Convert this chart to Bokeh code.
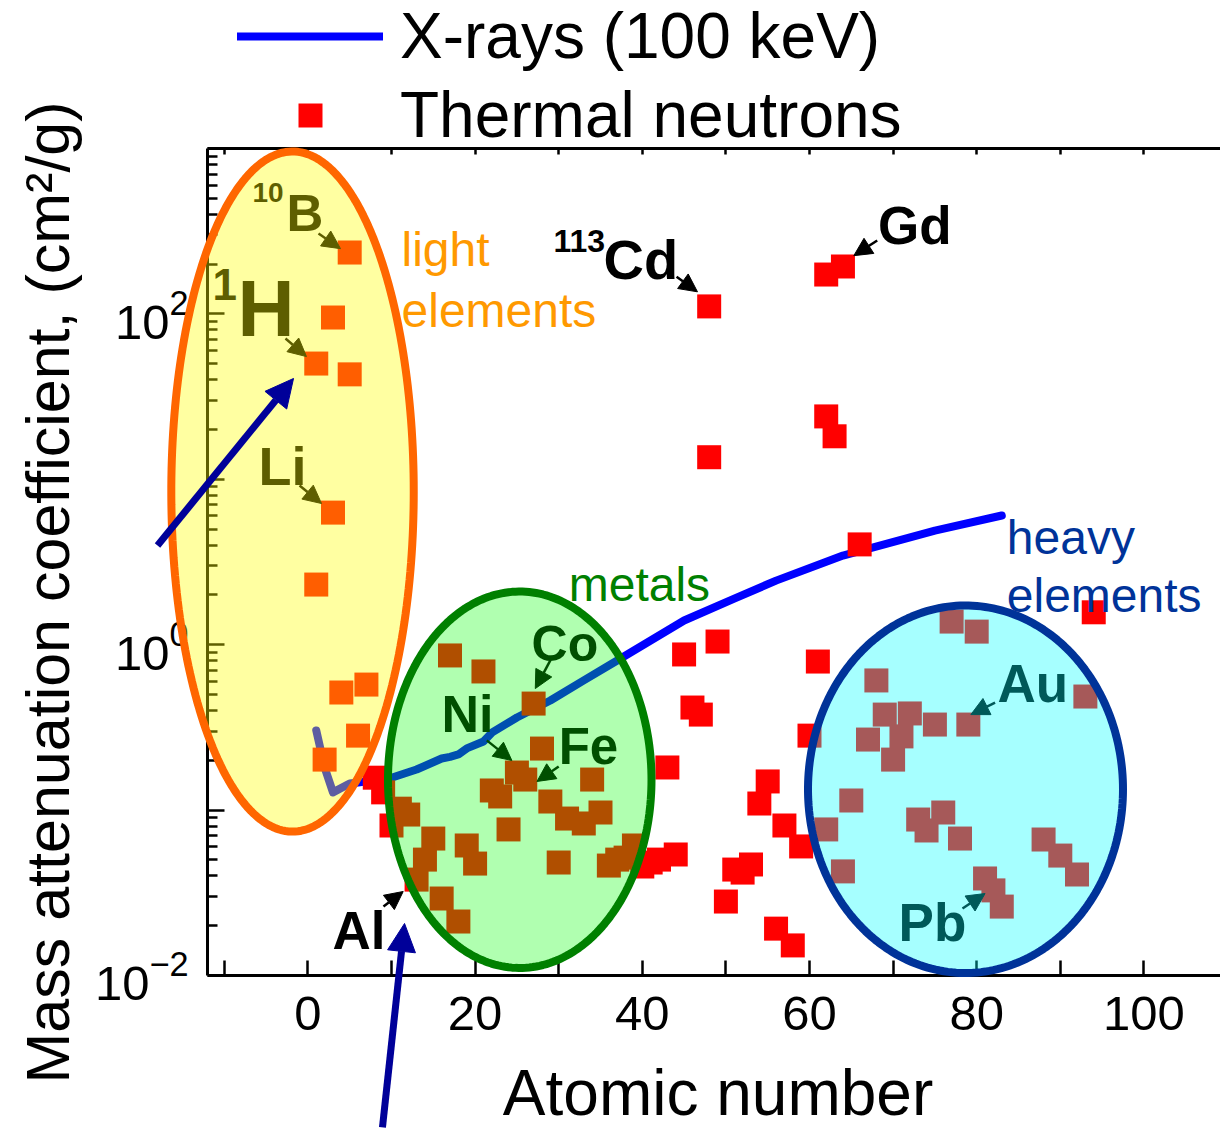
import math
import numpy as np
from bokeh.plotting import figure
from bokeh.models import (Range1d, LinearAxis, LogAxis, FixedTicker, Label, Arrow, NormalHead,
                          PolyAnnotation, Legend, LegendItem, CustomJSTickFormatter,
                          LogTickFormatter)
from bokeh.embed import file_html
from bokeh.resources import INLINE

# ------------------------------------------------------------------ data
# X-ray mass attenuation coefficient at 100 keV
xray_z = [1, 2, 3, 5, 6, 10, 13, 16, 17, 18, 19, 21, 22, 25, 29, 33, 37, 41, 45, 51, 56, 64, 75, 83]
xray_mu = [0.303, 0.181, 0.128, 0.145, 0.147, 0.157, 0.176, 0.205, 0.210, 0.217, 0.236, 0.260,
           0.294, 0.363, 0.460, 0.608, 0.803, 1.06, 1.40, 1.90, 2.44, 3.46, 4.90, 6.04]

# Thermal neutron mass attenuation coefficient
neutron_z = [1, 1, 2, 3, 3, 4, 5, 5, 6, 7,
             8, 9, 10, 11, 12, 13, 14, 15, 16, 17, 18, 19, 20, 21, 22, 23, 24, 25, 26, 27, 28,
             29, 30, 31, 33, 34, 35, 36, 37, 38, 39, 40, 41, 42, 43, 44, 45, 46, 47, 48, 48,
             49, 50, 51, 52, 53, 54, 55, 56, 57, 58, 59, 60, 61, 62, 62, 62, 63, 64, 64, 65,
             66, 67, 68, 69, 70, 71, 72, 73, 74, 75, 76, 77, 78, 79, 80, 81, 82, 83, 88, 90,
             92, 93, 94]
neutron_mu = [50.1, 2.31, 0.202, 95.1, 6.29, 0.514, 235, 43.1, 0.282, 0.574,
              0.157, 0.128, 0.0807, 0.102, 0.094, 0.038, 0.0502, 0.0673, 0.0292, 0.861, 0.0212,
              0.0611, 0.0475, 0.689, 0.1314, 0.1209, 0.0764, 0.1687, 0.153, 0.4406, 0.2355,
              0.1127, 0.0482, 0.0889, 0.0830, 0.153, 0.0967, 0.0462, 0.0502, 0.0516, 0.0611,
              0.0456, 0.0482, 0.0502, 0.181, 0.0539, 0.873, 0.417, 0.378, 111, 13.6,
              1.045, 0.0280, 0.0437, 0.0419, 0.0469, 0.1096, 0.149, 0.0192, 0.0807, 0.0152,
              0.0603, 0.282, 0.791, 173, 24.0, 0.0764, 18.2, 193.5, 0.0426, 0.1143,
              4.04, 0.267, 0.608, 0.378, 0.202, 0.279, 0.384, 0.0877, 0.0753, 0.329, 0.0967,
              1.38, 0.0673, 0.329, 1.20, 0.0386, 0.0327, 0.0261, 0.0664, 0.0531,
              0.0408, 0.486, 1.57]

x_ticks = [0, 20, 40, 60, 80, 100]
x_minor_ticks = [-10, 10, 30, 50, 70, 90]
y_major_ticks = [1e-2, 1e-1, 1e0, 1e1, 1e2, 1e3]
y_unlabelled = [1e-1, 1e1, 1e3]

X_AXIS_BOUNDS = (-12, 109.2)
Y_AXIS_BOUNDS = (1e-2, 1e3)

FONT = "Liberation Sans"
PX_PER_DECADE = 165.4

# ------------------------------------------------------------------ figure
# the frame fills the whole canvas; the axes sit at fixed locations inside it
p = figure(width=1220, height=1131, x_range=Range1d(-36.77, 109.163),
           y_range=Range1d(0.0011397, 7850.0), y_axis_type="log",
           x_axis_location=None, y_axis_location=None,
           output_backend="svg", toolbar_location=None,
           min_border_left=0, min_border_right=0, min_border_top=0, min_border_bottom=0)
p.grid.visible = False
p.outline_line_color = None
p.background_fill_color = "white"
p.border_fill_color = "white"

blank = CustomJSTickFormatter(code="return ''")

ya = LogAxis(fixed_location=X_AXIS_BOUNDS[0], bounds=Y_AXIS_BOUNDS,
             ticker=FixedTicker(ticks=y_major_ticks,
                                minor_ticks=[m * 10.0 ** k for k in range(-2, 3)
                                             for m in range(2, 10)]),
             formatter=LogTickFormatter(),
             major_label_overrides={t: "" for t in y_unlabelled})
ya.axis_line_width = 3
ya.major_tick_line_width = 2.5
ya.minor_tick_line_width = 2.5
ya.major_tick_in = 17
ya.major_tick_out = 0
ya.minor_tick_in = 10
ya.minor_tick_out = 0
ya.major_label_text_font = FONT
ya.major_label_text_font_size = "49px"
ya.major_label_text_color = "black"
ya.major_label_standoff = 19
p.add_layout(ya, "left")

xa = LinearAxis(fixed_location=Y_AXIS_BOUNDS[0], bounds=X_AXIS_BOUNDS,
                ticker=FixedTicker(ticks=x_ticks, minor_ticks=x_minor_ticks))
xa.axis_line_width = 3
xa.major_tick_line_width = 2.5
xa.minor_tick_line_width = 2.5
xa.major_tick_in = 15
xa.major_tick_out = 0
xa.minor_tick_in = 15
xa.minor_tick_out = 0
xa.major_label_text_font = FONT
xa.major_label_text_font_size = "49px"
xa.major_label_text_color = "black"
xa.major_label_standoff = 22
p.add_layout(xa, "below")

top = LinearAxis(fixed_location=Y_AXIS_BOUNDS[1], bounds=X_AXIS_BOUNDS,
                 ticker=FixedTicker(ticks=list(range(-10, 110, 10))), formatter=blank,
                 axis_line_width=3, major_tick_line_width=2.5, major_tick_in=6,
                 major_tick_out=0, minor_tick_in=0, minor_tick_out=0)
p.add_layout(top, "above")

# ------------------------------------------------------------------ data glyphs
xr = p.line(xray_z, xray_mu, line_color="#0000FF", line_width=8,
            line_cap="round", line_join="round")
sq = p.scatter(neutron_z, neutron_mu, marker="square", size=24,
               fill_color="#FF0000", line_color=None)

legend = Legend(items=[LegendItem(label="X-rays (100 keV)", renderers=[xr]),
                       LegendItem(label="Thermal neutrons", renderers=[sq])],
                location=(237, 979), orientation="vertical", glyph_width=146, glyph_height=60,
                label_height=72, label_standoff=17, spacing=5, padding=0, margin=0,
                border_line_color=None, background_fill_alpha=0,
                label_text_font=FONT, label_text_font_size="64px", label_text_color="black")
p.add_layout(legend)


def lab(text, x, y, size, color="black", bold=True, align="left", baseline="alphabetic",
        angle=0.0):
    if baseline == "alphabetic":
        # compensate the renderer's baseline placement (about 0.37 em too low)
        y = y * 10 ** (0.37 * size / PX_PER_DECADE)
    p.add_layout(Label(x=x, y=y, text=text, text_font=FONT, text_font_size=f"{size}px",
                       text_font_style="bold" if bold else "normal", text_color=color,
                       text_align=align, text_baseline=baseline, angle=angle))


# axis titles
lab("Mass attenuation coefficient, (cm\u00b2/g)", -31.03, 2.069, 61, bold=False,
    align="center", baseline="middle", angle=math.pi / 2)
lab("Atomic number", 49.06, 0.0014045, 64, bold=False, align="center")

# element labels (black, under the coloured overlays)
lab("10", -6.63, 471, 28)
lab("B", -2.56, 310, 51)
lab("1", -11.41, 120.5, 44)
lab("H", -8.42, 71.9, 79)
lab("Li", -5.91, 9.05, 54)
lab("113", 29.38, 235, 32)
lab("Cd", 35.36, 159, 56)
lab("Gd", 68.19, 259, 53)
lab("Co", 26.75, 0.780, 50)
lab("Ni", 15.98, 0.2904, 52)
lab("Fe", 30.0, 0.186, 51)
lab("Au", 82.49, 0.441, 53)
lab("Pb", 70.65, 0.01585, 53)
lab("Al", 2.94, 0.01416, 53)

pointers = [(1.27, 306, 3.90, 248), (-2.68, 71.0, -0.17, 55.2), (-1.0, 9.17, 1.63, 7.14),
            (44.1, 168, 46.6, 136), (68.1, 278, 65.3, 225), (29.0, 0.803, 27.2, 0.543),
            (21.4, 0.264, 24.4, 0.1995), (30.0, 0.1836, 27.4, 0.149), (82.2, 0.447, 79.3, 0.378),
            (78.3, 0.0254, 81.0, 0.0313), (9.04, 0.0261, 11.4, 0.0322)]
for xs0, ys0, xs1, ys1 in pointers:
    p.add_layout(Arrow(x_start=xs0, y_start=ys0, x_end=xs1, y_end=ys1, line_color="black",
                       line_width=2.5,
                       end=NormalHead(size=18, fill_color="black", line_color="black",
                                      line_width=1)))

# ------------------------------------------------------------------ overlay ellipses
ellipses = [(-1.84, 0.926, 14.5, 2.056, "#FFFF00", 0.37, "#FF6600"),
            (25.34, -0.8165, 15.76, 1.138, "#00FF00", 0.31, "#008000"),
            (78.66, -0.874, 18.84, 1.111, "#00FFFF", 0.35, "#003399")]
tt = np.linspace(0, 2 * np.pi, 240)
for cx, cly, rx, rly, fc, fa, lc in ellipses:
    ex = (cx + rx * np.cos(tt)).tolist()
    ey = (10 ** (cly + rly * np.sin(tt))).tolist()
    p.add_layout(PolyAnnotation(xs=ex, ys=ey, fill_color=fc, fill_alpha=fa,
                                line_color=lc, line_width=8, line_alpha=1))

# blue arrows
for xs0, ys0, xs1, ys1 in [(-17.99, 3.98, -1.72, 40.7), (8.92, 0.001205, 11.56, 0.02063)]:
    p.add_layout(Arrow(x_start=xs0, y_start=ys0, x_end=xs1, y_end=ys1, line_color="#000099",
                       line_width=7,
                       end=NormalHead(size=28, fill_color="#000099", line_color="#000099",
                                      line_width=1)))

# group captions
lab("light", 11.2, 190.8, 48, color="#FF9900", bold=False)
lab("elements", 11.2, 81.6, 48, color="#FF9900", bold=False)
lab("metals", 31.2, 1.80, 48, color="#008000", bold=False)
lab("heavy", 83.6, 3.46, 48, color="#003399", bold=False)
lab("elements", 83.6, 1.544, 48, color="#003399", bold=False)

open("out.html", "w").write(file_html(p, INLINE))
